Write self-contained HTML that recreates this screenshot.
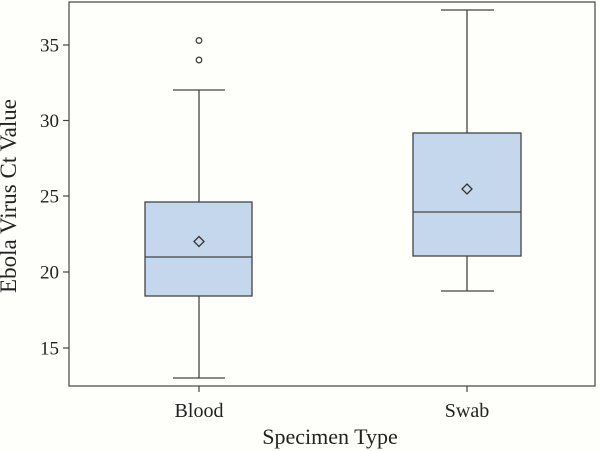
<!DOCTYPE html>
<html><head><meta charset="utf-8"><style>
html,body{margin:0;padding:0;background:#fefefa;}
svg{display:block}
text{font-family:"Liberation Serif",serif;fill:#222;}
</style></head><body>
<svg width="600" height="451" viewBox="0 0 600 451" xmlns="http://www.w3.org/2000/svg">
<rect width="600" height="451" fill="#fefefa"/>
<rect x="69" y="2" width="526" height="384" fill="none" stroke="#444" stroke-width="1.2"/>
<g stroke="#444" stroke-width="1.2">
<line x1="63" y1="45" x2="69" y2="45"/><line x1="63" y1="120.5" x2="69" y2="120.5"/>
<line x1="63" y1="196" x2="69" y2="196"/><line x1="63" y1="272" x2="69" y2="272"/>
<line x1="63" y1="348" x2="69" y2="348"/>
<line x1="199" y1="386" x2="199" y2="392"/><line x1="467" y1="386" x2="467" y2="392"/>
</g>
<g font-size="19" text-anchor="end">
<text x="59" y="51.5">35</text><text x="59" y="127">30</text><text x="59" y="202.5">25</text>
<text x="59" y="278.5">20</text><text x="59" y="354.5">15</text>
</g>
<text x="199" y="417" font-size="20" text-anchor="middle">Blood</text>
<text x="467" y="417" font-size="20" text-anchor="middle">Swab</text>
<text x="330" y="444" font-size="22" text-anchor="middle">Specimen Type</text>
<text transform="translate(16,196) rotate(-90)" font-size="23" text-anchor="middle">Ebola Virus Ct Value</text>
<g stroke="#444" stroke-width="1.3" fill="none">
<line x1="199" y1="90" x2="199" y2="202"/><line x1="199" y1="296" x2="199" y2="378"/>
<line x1="173" y1="90" x2="225" y2="90"/><line x1="173" y1="378" x2="225" y2="378"/>
<rect x="145" y="202" width="107" height="94" fill="#c5d7ec"/>
<line x1="145" y1="257" x2="252" y2="257"/>
<path d="M199 236.5 L204 241.5 L199 246.5 L194 241.5 Z" stroke="#333"/>
<circle cx="199" cy="40.5" r="2.8"/><circle cx="199" cy="60" r="2.8"/>
<line x1="467" y1="10" x2="467" y2="133"/><line x1="467" y1="256" x2="467" y2="291"/>
<line x1="441" y1="10" x2="494" y2="10"/><line x1="441" y1="291" x2="494" y2="291"/>
<rect x="413" y="133" width="108" height="123" fill="#c5d7ec"/>
<line x1="413" y1="212" x2="521" y2="212"/>
<path d="M467 184 L472 189 L467 194 L462 189 Z" stroke="#333"/>
</g>
</svg>
</body></html>
